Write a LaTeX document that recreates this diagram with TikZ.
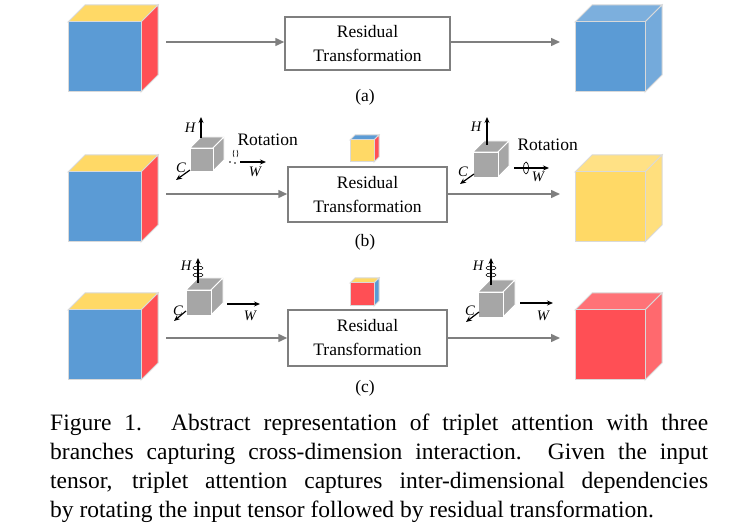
\documentclass[tikz,border=0pt]{standalone}
\usepackage{fontspec}
\setmainfont{Liberation Serif}
\usetikzlibrary{arrows.meta}
\definecolor{cb}{HTML}{5B9BD5}
\definecolor{cy}{HTML}{FFD966}
\definecolor{cr}{HTML}{FF4F55}
\definecolor{cg}{HTML}{A6A6A6}
\definecolor{ln}{HTML}{7F7F7F}
\newcommand{\mycube}[8]{%
 \fill[#7,draw=black!15,line width=1pt] (#1,#2)--++(#5,-#5)--++(#3,0)--++(-#5,#5)--cycle;
 \fill[#8,draw=black!15,line width=1pt] (#1+#3,#2)--++(#5,-#5)--++(0,#4)--++(-#5,#5)--cycle;
 \fill[#6,draw=black!15,line width=1pt] (#1,#2) rectangle ++(#3,#4);}
\newcommand{\graycube}[4]{\fill[cg,draw=white,line width=0.8pt] (#1,#2)--++(#4,-#4)--++(#3,0)--++(-#4,#4)--cycle;
 \fill[cg,draw=white,line width=0.8pt] (#1+#3,#2)--++(#4,-#4)--++(0,#3)--++(-#4,#4)--cycle;
 \fill[cg,draw=white,line width=0.8pt] (#1,#2) rectangle ++(#3,#3);}
\tikzset{box/.style={draw=ln,line width=1.5pt,fill=white,align=center,font=\fontsize{17.5}{24}\selectfont},
 flow/.style={draw=ln,line width=1.5pt,-{Triangle[length=9pt,width=8pt]}},
 ax/.style={line width=1.2pt,-{Stealth[length=6pt,width=5pt]}},
 lab/.style={font=\fontsize{17.5}{18}\selectfont},
 axl/.style={font=\itshape\fontsize{14.5}{15}\selectfont}}
\begin{document}
\begin{tikzpicture}[x=1pt,y=-1pt]
\useasboundingbox (0,0) rectangle (734,529);
% row a
\mycube{68}{22}{73}{70}{17}{cb}{cy}{cr}
\mycube{575}{22}{70}{70}{17}{cb}{cb!80!white}{cb!85!white}
\node[box,minimum width=165pt,minimum height=53pt] (ra) at (367.5,43.5) {Residual\\Transformation};
\coordinate (a0) at (166,42); \coordinate (a1) at (560,42);
\draw[flow] (a0)--(ra.west|-a0);
\draw[flow] (ra.east|-a1)--(a1);
\node[lab] (la) at (365,97) {(a)};
% row b
\mycube{68}{172}{73}{70}{17}{cb}{cy}{cr}
\mycube{575}{172}{70}{70}{17}{cy}{cy!80!white}{cy!85!white}
\node[box,minimum width=159pt,minimum height=55pt] (rb) at (367.5,194.5) {Residual\\Transformation};
\coordinate (b0) at (166,194); \coordinate (b1) at (560,194);
\draw[flow] (b0)--(rb.west|-b0);
\draw[flow] (rb.east|-b1)--(b1);
\mycube{350}{140}{24}{22}{5}{cy}{cb}{cr}
\node[lab] (lb) at (365,242) {(b)};
% row c
\mycube{68}{310}{73}{70}{17}{cb}{cy}{cr}
\mycube{575}{310}{70}{70}{17}{cr}{cr!80!white}{cr!85!white}
\node[box,minimum width=159pt,minimum height=56pt] (rc) at (367.5,338) {Residual\\Transformation};
\coordinate (c0) at (166,338); \coordinate (c1) at (560,338);
\draw[flow] (c0)--(rc.west|-c0);
\draw[flow] (rc.east|-c1)--(c1);
\mycube{350}{283}{24}{23}{5}{cr}{cy}{cb}
\node[lab] (lc) at (365,388) {(c)};
% gray cube b left
\graycube{190}{148}{23}{11}
\coordinate (hb) at (201,117); \draw[ax] (201,138)--(hb); \node[axl] at (190,128) {H};
\coordinate (cbb) at (176,180); \draw[ax] (190,170)--(cbb); \node[axl] at (181,168) {C};
\coordinate (wb) at (266,162); \draw[ax] (240,162)--(wb); \node[axl] at (255,172) {W};
\draw[line width=0.6pt] (234,157) arc (150:210:7); \draw[line width=0.6pt] (237,157) arc (30:-30:7);
\fill (230,162) circle (0.8); \fill (235,163) circle (0.8);
\node[lab,anchor=west] at (234,140) {Rotation};
% gray cube b right
\graycube{473}{152}{25}{11}
\coordinate (hb2) at (487,117); \draw[ax] (487,145)--(hb2); \node[axl] at (476,127) {H};
\coordinate (cb2) at (460,184); \draw[ax] (474,174)--(cb2); \node[axl] at (463,172) {C};
\coordinate (wb2) at (549,168); \draw[ax] (514,168)--(wb2); \node[axl] at (538,177) {W};
\draw[line width=0.7pt] (526,168) ellipse (2.5 and 6);
\node[lab,anchor=west] at (514,145) {Rotation};
% gray cube c left
\graycube{186}{290}{25}{12}
\coordinate (hc) at (198,258); \draw[ax] (198,283)--(hc); \node[axl] at (186,266) {H};
\draw[line width=0.6pt] (198,268) ellipse (5 and 2); \draw[line width=0.6pt] (198,275) ellipse (5 and 2);
\coordinate (cc) at (174,321); \draw[ax] (186,311)--(cc); \node[axl] at (178,311) {C};
\coordinate (wc) at (260,304); \draw[ax] (227,304)--(wc); \node[axl] at (250,316) {W};
% gray cube c right
\graycube{478}{292}{25}{12}
\coordinate (hc2) at (491,258); \draw[ax] (491,285)--(hc2); \node[axl] at (478,266) {H};
\draw[line width=0.6pt] (491,268) ellipse (5 and 2); \draw[line width=0.6pt] (491,275) ellipse (5 and 2);
\coordinate (cc2) at (466,322); \draw[ax] (479,312)--(cc2); \node[axl] at (470,311) {C};
\coordinate (wc2) at (553,303); \draw[ax] (520,303)--(wc2); \node[axl] at (543,316) {W};
% caption
\begin{scope}[every node/.style={anchor=west,inner sep=0pt,font=\fontsize{23.5}{26}\selectfont}]
\node (t1) at (50,425) {\makebox[658pt][s]{Figure 1. Abstract representation of triplet attention with three}};
\node (t2) at (50,454) {\makebox[658pt][s]{branches capturing cross-dimension interaction.\ \ Given the input}};
\node (t3) at (50,483) {\makebox[658pt][s]{tensor, triplet attention captures inter-dimensional dependencies}};
\node (t4) at (50,512) {by rotating the input tensor followed by residual transformation.};
\end{scope}
\end{tikzpicture}
\end{document}
